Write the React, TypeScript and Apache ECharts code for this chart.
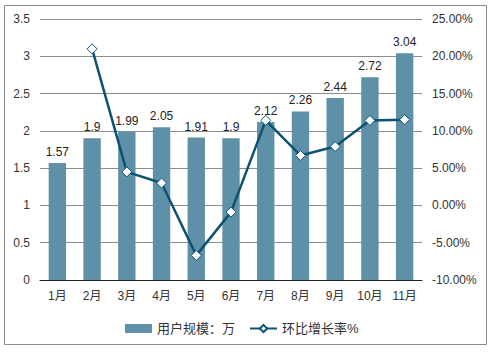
import React, { useEffect, useRef } from "react";
import * as echarts from "echarts";

const categories = ["1月", "2月", "3月", "4月", "5月", "6月", "7月", "8月", "9月", "10月", "11月"];
const users = [1.57, 1.9, 1.99, 2.05, 1.91, 1.9, 2.12, 2.26, 2.44, 2.72, 3.04];
const growth: (number | null)[] = [null, 21.0, 4.5, 3.0, -6.7, -0.9, 11.4, 6.7, 7.9, 11.4, 11.5];

const barName = "用户规模：万";
const lineName = "环比增长率%";

export default function App() {
  const ref = useRef<HTMLDivElement>(null);
  useEffect(() => {
    const chart = echarts.init(ref.current!, null, { renderer: "svg" });
    const font = "Arial, 'Liberation Sans', 'Noto Sans CJK SC', sans-serif";
    chart.setOption({
      animation: false,
      textStyle: { fontFamily: font },
      graphic: [
        {
          type: "rect",
          shape: { x: 4.5, y: 5.5, width: 482, height: 339 },
          style: { fill: "none", stroke: "#8a8a8a", lineWidth: 1 },
          silent: true,
        },
      ],
      grid: { left: 40, right: 70, top: 19, bottom: 74 },
      legend: {
        bottom: 17,
        left: 123,
        padding: 2,
        itemGap: 14,
        itemWidth: 27,
        itemHeight: 9,
        textStyle: { fontSize: 13, color: "#333", fontFamily: font },
        data: [
          { name: barName, icon: "rect" },
          { name: lineName },
        ],
      },
      xAxis: {
        type: "category",
        data: categories,
        axisTick: { show: false },
        axisLine: { lineStyle: { color: "#222", width: 1 } },
        axisLabel: { color: "#333", fontSize: 12, margin: 10 },
      },
      yAxis: [
        {
          type: "value",
          min: 0,
          max: 3.5,
          interval: 0.5,
          axisLine: { show: false },
          axisTick: { show: false },
          splitLine: { lineStyle: { color: "#8c8c8c", width: 1 } },
          axisLabel: { color: "#333", fontSize: 12, margin: 10 },
        },
        {
          type: "value",
          min: -10,
          max: 25,
          interval: 5,
          axisLine: { show: false },
          axisTick: { show: false },
          splitLine: { show: false },
          axisLabel: {
            color: "#333",
            fontSize: 12,
            margin: 10,
            formatter: (v: number) => v.toFixed(2) + "%",
          },
        },
      ],
      series: [
        {
          name: barName,
          type: "bar",
          data: users,
          barWidth: "50%",
          itemStyle: { color: "#5E90A7" },
          label: { show: true, position: "top", color: "#222", fontSize: 12, distance: 5 },
          z: 2,
        },
        {
          name: lineName,
          type: "line",
          yAxisIndex: 1,
          data: growth,
          symbol: "diamond",
          symbolSize: 10,
          lineStyle: { color: "#0D5371", width: 2.5 },
          itemStyle: { color: "#ffffff", borderColor: "#0D5371", borderWidth: 1 },
          z: 3,
        },
      ],
    });
    return () => chart.dispose();
  }, []);
  return (
    <div
      ref={ref}
      style={{ position: "fixed", left: 0, top: 0, width: 492, height: 354, background: "#fff" }}
    />
  );
}
